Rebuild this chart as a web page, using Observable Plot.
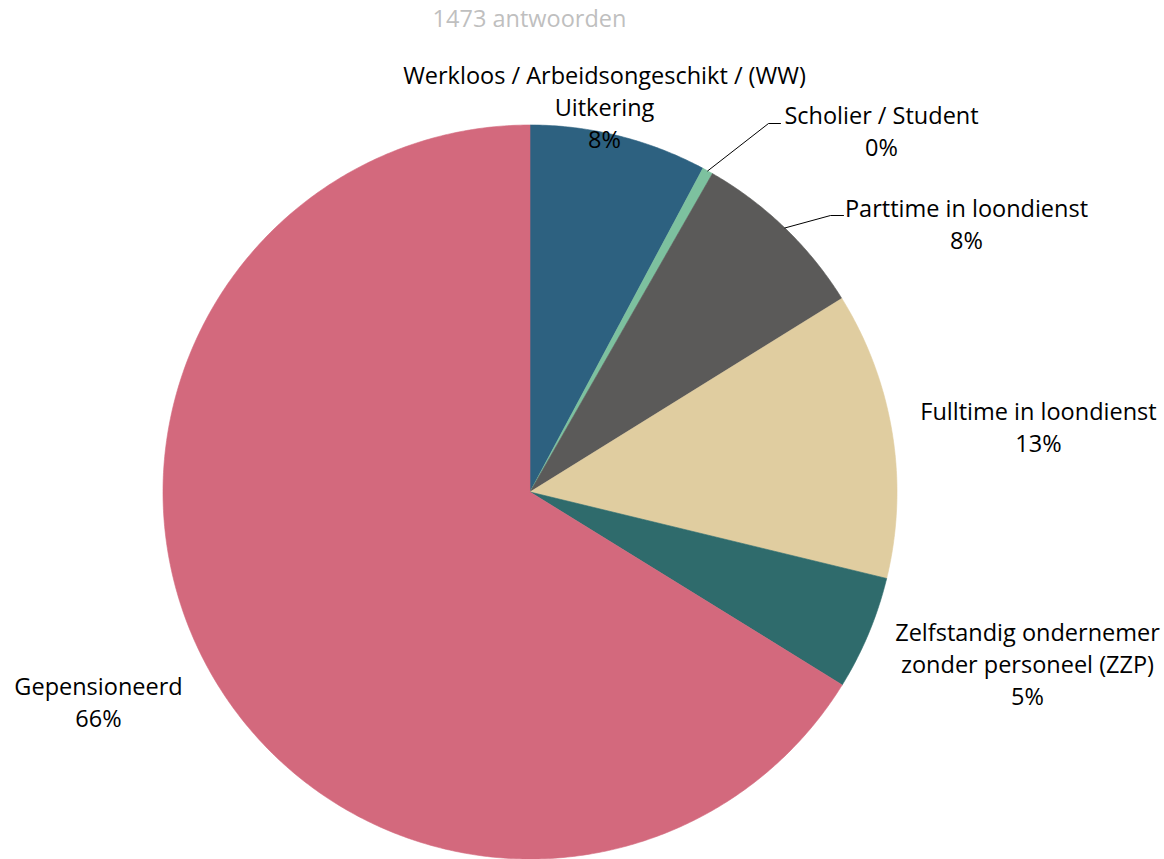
<!DOCTYPE html>
<html><head><meta charset="utf-8">
<script src="https://cdn.jsdelivr.net/npm/d3@7"></script>
<script src="https://cdn.jsdelivr.net/npm/@observablehq/plot@0.6"></script>
<style>body{margin:0;background:#fff} svg{display:block}</style>
</head><body><div id="chart"></div>
<script>
// ---- data ----
const categories = [
  "Werkloos / Arbeidsongeschikt / (WW)\nUitkering",
  "Scholier / Student",
  "Parttime in loondienst",
  "Fulltime in loondienst",
  "Zelfstandig ondernemer\nzonder personeel (ZZP)",
  "Gepensioneerd"
];
const counts = [115, 7, 116, 186, 74, 975];
const colors = ["#2D6180", "#7DC19F", "#5B5A59", "#E0CDA0", "#2F6B6C", "#D3697D"];
const titleText = "1473 antwoorden";

// ---- layout (pixels) ----
const W = 1164, H = 859, CX = 529.5, CY = 491.5, R = 367;
const labelPos = [[604, 107.5], [881, 131.5], [966, 224], [1038, 427], [1027, 664], [98, 702]];
const leaderElbows = {1: [[768, 123], [780, 123]], 2: [[830, 215], [843, 215]]};
const titlePos = [529, 21];
const FS = 23.5, LH = 32 / 23.5;

const toX = px => (px - CX) / R;
const toY = py => (CY - py) / R;

const total = d3.sum(counts);
const data = categories.map((c, i) => ({label: c, value: counts[i], color: colors[i], i}));
const arcs = d3.pie().sort(null).value(d => d.value).startAngle(0).endAngle(2 * Math.PI)(data);

const pts = [];
for (const a of arcs) {
  pts.push({key: a.data.label, x: 0, y: 0});
  const n = Math.max(4, Math.ceil((a.endAngle - a.startAngle) / (Math.PI / 360)));
  for (let k = 0; k <= n; k++) {
    const t = a.startAngle + (a.endAngle - a.startAngle) * k / n;
    pts.push({key: a.data.label, x: Math.sin(t), y: Math.cos(t)});
  }
  pts.push({key: a.data.label, x: 0, y: 0});
}

const labels = arcs.map((a, i) => ({
  text: a.data.label + "\n" + Math.round(a.data.value / total * 100) + "%",
  x: toX(labelPos[i][0]), y: toY(labelPos[i][1])
}));

const leaders = [];
for (const [idx, elbows] of Object.entries(leaderElbows)) {
  const a = arcs[+idx];
  const mid = (a.startAngle + a.endAngle) / 2;
  leaders.push({id: idx, x: Math.sin(mid), y: Math.cos(mid)});
  for (const [px, py] of elbows) leaders.push({id: idx, x: toX(px), y: toY(py)});
}

const FONT = "'Open Sans', 'Noto Sans', sans-serif";

const chart = Plot.plot({
  width: W, height: H,
  marginLeft: CX - R, marginRight: W - (CX + R),
  marginTop: CY - R, marginBottom: H - (CY + R),
  x: {domain: [-1, 1], axis: null},
  y: {domain: [-1, 1], axis: null},
  color: {domain: categories, range: colors},
  style: {fontFamily: FONT, background: "#fff", overflow: "visible"},
  marks: [
    Plot.line(pts, {x: "x", y: "y", z: "key", fill: "key", stroke: "key", strokeWidth: 0.6, curve: "linear"}),
    Plot.line(leaders, {x: "x", y: "y", z: "id", stroke: "#000", strokeWidth: 1}),
    Plot.text(labels, {x: "x", y: "y", text: "text", fontSize: FS, lineHeight: LH, lineAnchor: "middle", textAnchor: "middle", fill: "#000", dy: -2}),
    Plot.text([titleText], {x: () => toX(titlePos[0]), y: () => toY(titlePos[1]), text: d => d, fontSize: FS, fill: "#BFBFBF", textAnchor: "middle", lineAnchor: "middle", dy: -2})
  ]
});
document.getElementById("chart").appendChild(chart);
</script>
</body></html>
